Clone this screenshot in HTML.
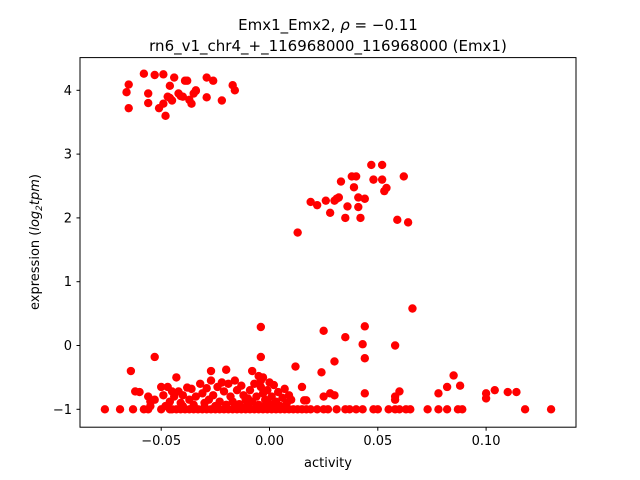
<!DOCTYPE html>
<html><head><meta charset="utf-8"><style>
body{margin:0;background:#fff}
svg{display:block;font-family:"DejaVu Sans","Liberation Sans",sans-serif}
</style></head><body>
<svg id="chart" width="640" height="480" xmlns="http://www.w3.org/2000/svg">
<text x="328" y="30" text-anchor="middle" font-size="15">Emx1_Emx2, <tspan font-style="italic">ρ</tspan> = −0.11</text>
<text x="328" y="51" text-anchor="middle" font-size="15">rn6_v1_chr4_+_116968000_116968000 (Emx1)</text>
<g id="plot"></g>
<rect x="80" y="57.6" width="496" height="369.6" fill="none" stroke="#000" stroke-width="1"/>
<text x="328" y="467" text-anchor="middle" font-size="13">activity</text>
<text transform="translate(39,242) rotate(-90)" text-anchor="middle" font-size="13">expression (<tspan font-style="italic">log</tspan><tspan font-size="9" dy="3" font-style="italic">2</tspan><tspan dy="-3" font-style="italic">tpm</tspan>)</text>
</svg>
<script>
const xTicks=[-0.05,0,0.05,0.10];
const xTickLabels=["−0.05","0.00","0.05","0.10"];
const yTicks=[-1,0,1,2,3,4];
const yTickLabels=["−1","0","1","2","3","4"];
const topX=[-0.066,-0.065,-0.065,-0.058,-0.056,-0.056,-0.053,-0.051,-0.049,-0.049,-0.048,-0.047,-0.046,-0.044,-0.045,-0.046,-0.042,-0.041,-0.039,-0.038,-0.040,-0.037,-0.036,-0.035,-0.034,-0.034,-0.029,-0.029,-0.026,-0.022,-0.017,-0.016];
const topY=[3.97,4.09,3.72,4.26,3.95,3.8,4.24,3.72,3.79,4.25,3.6,3.9,4.07,4.2,3.84,3.88,3.95,3.91,4.15,4.15,3.9,3.85,3.79,3.95,3.99,4.0,4.2,3.89,4.15,3.84,4.08,4.0];
const midX=[0.013,0.019,0.022,0.026,0.028,0.030,0.031,0.032,0.033,0.035,0.036,0.038,0.039,0.040,0.041,0.041,0.042,0.044,0.047,0.048,0.052,0.052,0.053,0.054,0.059,0.062,0.064];
const midY=[1.77,2.25,2.2,2.27,2.08,2.27,2.3,2.32,2.57,2.0,2.18,2.65,2.48,2.65,2.32,2.17,2.0,2.3,2.83,2.6,2.83,2.6,2.42,2.47,1.97,2.65,1.93];
const lowX=[0.066,-0.004,0.025,0.035,0.044,0.043,0.058,-0.053,-0.004,0.044,0.030,0.012,0.024,-0.064,0.085,-0.043,-0.027,-0.020,-0.008,0.10,0.10,0.104,0.11,0.114,0.082,0.088,0.078,0.06,0.058,0.058,0.044,0.028,0.030,0.015,0.016,0.017,0.025,
-0.062,-0.060,-0.056,-0.055,-0.053,-0.050,-0.049,-0.047,-0.046,-0.045,-0.044,-0.042,-0.041,-0.040,-0.038,-0.037,-0.036,-0.035,-0.034,-0.032,-0.031,-0.030,-0.029,-0.028,-0.027,-0.026,-0.025,-0.024,-0.023,-0.022,-0.021,-0.020,-0.019,-0.018,-0.017,-0.016,-0.015,-0.014,-0.013,-0.012,-0.011,-0.010,-0.009,-0.008,-0.007,-0.006,-0.005,-0.004,-0.003,-0.002,-0.001,0.000,0.001,0.002,0.003,0.004,0.005,0.006,0.007,0.008,-0.004,-0.003,-0.005,0.000,-0.002,-0.001,-0.006,-0.01,-0.015,-0.03,-0.04,-0.048,-0.055,0.01,0.009,0.004,0.002,-0.012];
const lowY=[0.58,0.29,0.23,0.13,0.3,0.02,0.0,-0.18,-0.18,-0.2,-0.25,-0.33,-0.42,-0.4,-0.47,-0.5,-0.4,-0.38,-0.4,-0.75,-0.83,-0.7,-0.73,-0.73,-0.65,-0.63,-0.75,-0.72,-0.8,-0.85,-0.75,-0.75,-0.78,-0.65,-0.86,-0.86,-0.8,
-0.72,-0.73,-0.8,-0.88,-0.85,-0.65,-0.78,-0.65,-0.88,-0.72,-0.8,-0.72,-0.9,-0.78,-0.66,-0.85,-0.68,-0.93,-0.8,-0.6,-0.75,-0.9,-0.67,-0.85,-0.55,-0.78,-0.95,-0.65,-0.88,-0.58,-0.72,-0.93,-0.6,-0.8,-0.88,-0.55,-0.7,-0.92,-0.63,-0.78,-0.85,-0.95,-0.7,-0.88,-0.6,-0.8,-0.93,-0.65,-0.75,-0.85,-0.7,-0.92,-0.8,-0.62,-0.88,-0.73,-0.95,-0.82,-0.68,-0.9,-0.55,-0.5,-0.48,-0.58,-0.95,-0.9,-0.97,-0.83,-0.97,-0.97,-0.95,-0.95,-0.95,-0.85,-0.78,-0.97,-0.93,-0.97];
const floorX=[-0.076,-0.069,-0.063,-0.058,-0.056,-0.050,-0.046,-0.045,-0.043,-0.041,-0.039,-0.037,-0.035,-0.033,-0.031,-0.029,-0.027,-0.025,-0.023,-0.021,-0.019,-0.017,-0.015,-0.013,-0.011,-0.009,-0.007,-0.005,-0.003,-0.001,0.001,0.003,0.005,0.007,0.009,0.011,0.013,0.015,0.017,0.019,0.022,0.025,0.027,0.031,0.035,0.037,0.040,0.043,0.048,0.050,0.055,0.058,0.060,0.063,0.065,0.073,0.078,0.082,0.087,0.089,0.118,0.130];
const floorY=-1;

const NS="http://www.w3.org/2000/svg";
const svg=document.getElementById('chart');
const plot=document.getElementById('plot');
function sx(v){return 269.5+v*2166;}
function sy(v){return 345.5-v*63.8;}
function dot(x,y){
  const c=document.createElementNS(NS,'circle');
  c.setAttribute('cx',sx(x));c.setAttribute('cy',sy(y));c.setAttribute('r',4.2);c.setAttribute('fill','#ff0000');
  
  
  plot.appendChild(c);
}
topX.forEach((x,i)=>dot(x,topY[i]));
midX.forEach((x,i)=>dot(x,midY[i]));
lowX.forEach((x,i)=>dot(x,lowY[i]));
floorX.forEach(x=>dot(x,floorY));
xTicks.forEach((t,i)=>{
  const l=document.createElementNS(NS,'line');
  l.setAttribute('x1',sx(t));l.setAttribute('x2',sx(t));l.setAttribute('y1',427.2);l.setAttribute('y2',430.7);l.setAttribute('stroke','#000');
  
  
  svg.appendChild(l);
  const tx=document.createElementNS(NS,'text');
  tx.setAttribute('x',sx(t));tx.setAttribute('y',445);tx.setAttribute('text-anchor','middle');tx.setAttribute('font-size','13');
  tx.textContent=xTickLabels[i];
  
  
  svg.appendChild(tx);
});
yTicks.forEach((t,i)=>{
  const l=document.createElementNS(NS,'line');
  l.setAttribute('x1',76.5);l.setAttribute('x2',80);l.setAttribute('y1',sy(t));l.setAttribute('y2',sy(t));l.setAttribute('stroke','#000');
  
  
  svg.appendChild(l);
  const tx=document.createElementNS(NS,'text');
  tx.setAttribute('x',72);tx.setAttribute('y',sy(t)+4.5);tx.setAttribute('text-anchor','end');tx.setAttribute('font-size','13');
  tx.textContent=yTickLabels[i];
  
  
  svg.appendChild(tx);
});
</script>
</body></html>
